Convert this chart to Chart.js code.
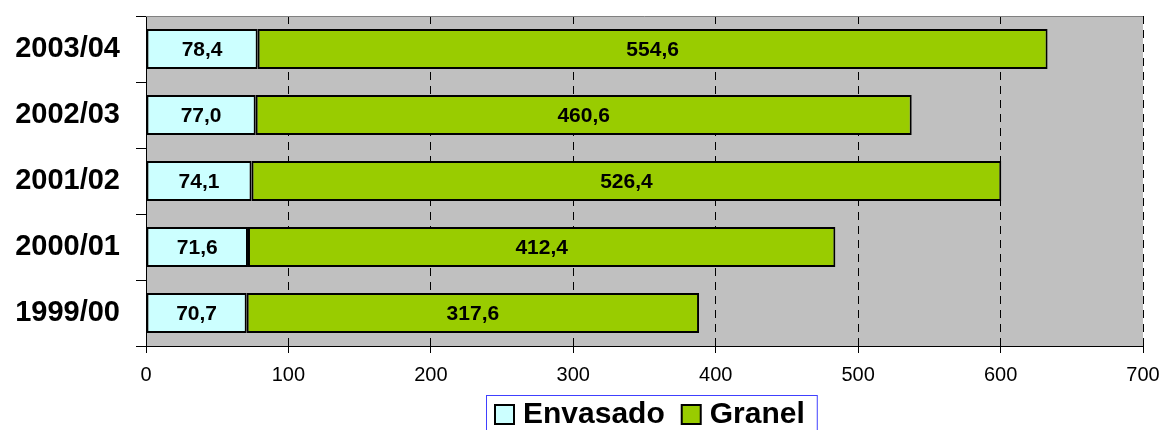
<!DOCTYPE html>
<html>
<head>
<meta charset="utf-8">
<script src="https://cdn.jsdelivr.net/npm/chart.js@4.4.1/dist/chart.umd.min.js"></script>
<style>
  html, body { margin: 0; padding: 0; background: #fff; }
  #wrap { width: 1160px; height: 430px; position: relative; }
</style>
</head>
<body>
<div id="wrap"><canvas id="chart" width="1160" height="430"></canvas></div>
<script>
const campaigns = ['2003/04', '2002/03', '2001/02', '2000/01', '1999/00'];
const envasado = [78.4, 77.0, 74.1, 71.6, 70.7];
const granel = [554.6, 460.6, 526.4, 412.4, 317.6];
const xTicks = [0, 100, 200, 300, 400, 500, 600, 700];

const FONT = 'Arial, "Liberation Sans", sans-serif';

const fmt = v => v.toFixed(1).replace('.', ',');

// grey plot background + grey top frame line
const plotBackground = {
  id: 'plotBackground',
  beforeDraw(chart) {
    const { ctx, chartArea: a } = chart;
    ctx.save();
    ctx.fillStyle = '#C0C0C0';
    ctx.fillRect(a.left, a.top, a.right - a.left, a.bottom - a.top);
    ctx.restore();
  },
  afterDraw(chart) {
    const { ctx, chartArea: a } = chart;
    ctx.save();
    ctx.strokeStyle = '#808080';
    ctx.lineWidth = 1;
    ctx.beginPath();
    ctx.moveTo(a.left, a.top + 0.5);
    ctx.lineTo(a.right, a.top + 0.5);
    ctx.stroke();
    ctx.restore();
  }
};

// values written in the middle of each segment
const segmentLabels = {
  id: 'segmentLabels',
  afterDatasetsDraw(chart) {
    const { ctx } = chart;
    ctx.save();
    ctx.font = 'bold 21px ' + FONT;
    ctx.fillStyle = '#000';
    ctx.textAlign = 'center';
    ctx.textBaseline = 'middle';
    chart.data.datasets.forEach((ds, i) => {
      chart.getDatasetMeta(i).data.forEach((bar, j) => {
        const x = (bar.x + bar.base) / 2;
        ctx.fillText(fmt(ds.data[j]), x, bar.y + 1);
      });
    });
    ctx.restore();
  }
};

// boxed legend under the axis, like the spreadsheet one
const boxLegend = {
  id: 'boxLegend',
  afterDraw(chart) {
    const { ctx, chartArea: a } = chart;
    const sets = chart.data.datasets;
    ctx.save();
    ctx.font = 'bold 30px ' + FONT;
    const widths = sets.map(ds => ctx.measureText(ds.label).width);
    const sq = 19, gapIn = 9, gapOut = 17, padL = 9, padR = 12;
    const total = padL + padR + widths.reduce((s, w) => s + sq + gapIn + w, 0) + gapOut * (sets.length - 1);
    const left = Math.round((a.left + a.right) / 2 + 7 - total / 2);
    const top = 395;
    ctx.fillStyle = '#fff';
    ctx.fillRect(left, top, total, 60);
    ctx.strokeStyle = '#4040FF';
    ctx.lineWidth = 1;
    ctx.strokeRect(left + 0.5, top + 0.5, total, 60);

    let x = left + padL;
    const mid = top + 19;
    sets.forEach((ds, i) => {
      ctx.fillStyle = ds.backgroundColor;
      ctx.fillRect(x, mid - 9, sq, sq);
      ctx.strokeStyle = '#000';
      ctx.lineWidth = 2;
      ctx.strokeRect(x, mid - 9, sq, sq);
      ctx.fillStyle = '#000';
      ctx.textAlign = 'left';
      ctx.textBaseline = 'middle';
      ctx.fillText(ds.label, x + sq + gapIn, mid + 1);
      x += sq + gapIn + widths[i] + gapOut;
    });
    ctx.restore();
  }
};

new Chart(document.getElementById('chart'), {
  type: 'bar',
  data: {
    labels: campaigns,
    datasets: [
      {
        label: 'Envasado',
        data: envasado,
        backgroundColor: '#CCFFFF',
        borderColor: '#000',
        borderWidth: 2,
        borderSkipped: false
      },
      {
        label: 'Granel',
        data: granel,
        backgroundColor: '#99CC00',
        borderColor: '#000',
        borderWidth: 2,
        borderSkipped: false
      }
    ]
  },
  options: {
    indexAxis: 'y',
    responsive: false,
    animation: false,
    layout: { padding: { top: 16, right: 17, bottom: 0, left: 0 } },
    datasets: {
      bar: { categoryPercentage: 1.0, barPercentage: 0.606 }
    },
    plugins: {
      legend: { display: false },
      tooltip: { enabled: false },
      title: { display: false }
    },
    scales: {
      x: {
        stacked: true,
        min: 0,
        max: 700,
        afterBuildTicks(scale) {
          scale.ticks = xTicks.map(v => ({ value: v }));
        },
        afterFit(scale) {
          scale.height = 84;
          scale.paddingLeft = 0;
          scale.paddingRight = 0;
        },
        grid: {
          color: '#000',
          lineWidth: 1,
          drawTicks: true,
          tickLength: 7
        },
        border: { display: true, color: '#000', width: 1, dash: [8, 6] },
        ticks: {
          color: '#000',
          padding: 10,
          font: { family: FONT, size: 20 }
        }
      },
      y: {
        stacked: true,
        afterFit(scale) {
          scale.width = 146;
          scale.paddingTop = 0;
          scale.paddingBottom = 0;
        },
        grid: {
          offset: true,
          drawOnChartArea: false,
          drawTicks: true,
          tickLength: 10,
          color: '#000'
        },
        border: { display: true, color: '#000', width: 1 },
        ticks: {
          color: '#000',
          padding: 16,
          font: { family: FONT, size: 29, weight: 'bold' }
        }
      }
    }
  },
  plugins: [plotBackground, segmentLabels, boxLegend]
});
</script>
</body>
</html>
